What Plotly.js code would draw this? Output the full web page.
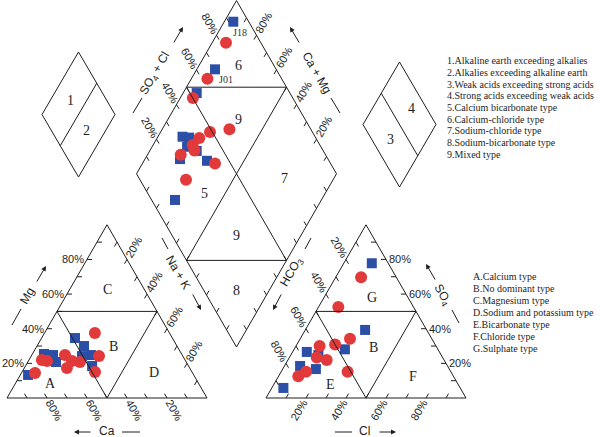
<!DOCTYPE html>
<html><head><meta charset="utf-8">
<script src="https://cdn.plot.ly/plotly-3.0.1.min.js"></script>
<style>html,body{margin:0;padding:0;background:#fff}#chart{width:600px;height:437px}</style>
</head><body><div id="chart"></div>
<script>
// ---------------- data (percent) ----------------
// Cation triangle: Ca %, Mg % (Na+K = 100 - Ca - Mg)
const catBlueCa = [82.8, 68.8, 64.6, 65.1, 48.7, 46.5, 50.4, 45.6, 48.2];
const catBlueMg = [13.3, 25.4, 24.8, 20.8, 34.6, 30.0, 24.2, 24.8, 18.5];
const catRedCa  = [78.8, 71.6, 69.3, 58.6, 61.4, 56.8, 53.1, 37.3, 41.9, 48.5];
const catRedMg  = [14.4, 21.9, 21.4, 24.8, 17.3, 21.4, 20.8, 37.5, 24.2, 15.0];
// Anion triangle: Cl %, SO4 % (HCO3 = 100 - Cl - SO4)
const anBlueCl  = [14.0, 29.9, 25.4, 7.1, 13.8, 7.8, 16.6, 5.8];
const anBlueSO4 = [77.8, 39.3, 28.1, 26.6, 24.8, 18.5, 16.7, 5.8];
const anRedCl   = [12.7, 9.9, 24.9, 19.1, 11.8, 13.7, 19.4, 12.4, 9.9, 33.2];
const anRedSO4  = [69.7, 52.5, 34.2, 30.9, 30.0, 23.4, 21.9, 15.2, 12.5, 15.2];
// Diamond: Na+K %, SO4+Cl %
const diaBlueNaK = [4.5, 9.1, 6.8, 12.3, 15.8, 17.5, 23.5, 17.5, 31.5, 26.8];
const diaBlueSCl = [92.3, 69.4, 53.4, 33.7, 36.7, 33.1, 36.7, 26.0, 39.0, 11.7];
const diaRedNaK  = [6.9, 8.0, 6.3, 33.6, 24.7, 21.1, 19.8, 22.3, 16.6, 36.3, 26.5];
const diaRedSCl  = [82.6, 62.9, 50.1, 59.3, 48.8, 41.7, 36.4, 35.7, 27.6, 42.2, 23.0];
const sampleLabels = ["J18", "J01"];          // first two blue diamond points
const tickPct = [20, 40, 60, 80];
const legendTypes = [
  "1.Alkaline earth exceeding alkalies",
  "2.Alkalies exceeding alkaline earth",
  "3.Weak acids exceeding strong acids",
  "4.Strong acids exceeding weak acids",
  "5.Calcium bicarbonate type",
  "6.Calcium-chloride type",
  "7.Sodium-chloride type",
  "8.Sodium-bicarbonate type",
  "9.Mixed type"];
const legendZones = [
  "A.Calcium type", "B.No dominant type", "C.Magnesium type",
  "D.Sodium and potassium type", "E.Bicarbonate type",
  "F.Chloride type", "G.Sulphate type"];

// ---------------- geometry ----------------
const S = 200, H = S * Math.sqrt(3) / 2;
const C0 = [7, 398], A0 = [266, 398], D0 = [236.5, 347];
const cat = (ca, mg) => { const nk = 100 - ca - mg; return [C0[0] + S * (nk + mg / 2) / 100, C0[1] - H * mg / 100]; };
const an  = (cl, so) => [A0[0] + S * (cl + so / 2) / 100, A0[1] - H * so / 100];
const dia = (nk, sc) => { const cm = 100 - nk; return [D0[0] + S / 2 * (sc - cm) / 100, D0[1] - H * (cm + sc) / 100]; };

const LC = '#1e1e1e';
const shapes = [];
const seg = (p, q, w) => shapes.push({type: 'line', xref: 'x', yref: 'y', x0: p[0], y0: p[1], x1: q[0], y1: q[1], line: {color: LC, width: w || 1}});
const poly = pts => { for (let i = 0; i < pts.length; i++) seg(pts[i], pts[(i + 1) % pts.length]); };

// frames
poly([cat(100, 0), cat(0, 0), cat(0, 100)]);
seg(cat(50, 50), cat(0, 50)); seg(cat(50, 50), cat(50, 0)); seg(cat(50, 0), cat(0, 50));
poly([an(0, 0), an(100, 0), an(0, 100)]);
seg(an(0, 50), an(50, 50)); seg(an(0, 50), an(50, 0)); seg(an(50, 0), an(50, 50));
poly([dia(100, 0), dia(0, 0), dia(0, 100), dia(100, 100)]);
seg(dia(50, 0), dia(100, 50)); seg(dia(0, 50), dia(50, 100));
seg(dia(50, 0), dia(50, 100)); seg(dia(100, 50), dia(0, 50));

// ticks
const r3 = Math.sqrt(3) / 2, TL = 5;
const tick = (p, d) => seg(p, [p[0] + TL * d[0], p[1] + TL * d[1]]);
for (let v = 10; v < 100; v += 10) {
  tick(cat(v, 0), [-0.5, -r3]);
  tick(cat(100 - v, v), [1, 0]);
  tick(cat(0, v), [-0.5, r3]);
  tick(an(v, 0), [0.5, -r3]);
  tick(an(100 - v, v), [-1, 0]);
  tick(an(0, v), [0.5, r3]);
  tick(dia(0, v), [0.5, r3]);
  tick(dia(v, 100), [-0.5, r3]);
  tick(dia(v, 0), [0.5, -r3]);
  tick(dia(100, v), [-0.5, -r3]);
}

// ---------------- annotations ----------------
const ann = [];
const SANS = 'Liberation Sans, Arial, sans-serif';
const SERIF = 'Liberation Serif, Times New Roman, serif';
const txt = (x, y, t, o) => ann.push(Object.assign({x: x, y: y, xref: 'x', yref: 'y', text: t, showarrow: false,
  font: {family: SANS, size: 11, color: '#1e1e1e'}, xanchor: 'center', yanchor: 'middle'}, o || {}));
const OFF = 14;
const lab = (p, d, t, ang) => txt(p[0] + OFF * d[0], p[1] + OFF * d[1], t, {textangle: ang});
tickPct.forEach(v => {
  const t = v + '%';
  lab(cat(v, 0), [0.5, r3], t, 60);
  lab(cat(100 - v, v), [-1, 0], t, 0);
  lab(cat(0, 100 - v), [0.5, -r3], t, -60);
  lab(an(v, 0), [-0.5, r3], t, -60);
  lab(an(100 - v, v), [1, 0], t, 0);
  lab(an(0, 100 - v), [-0.5, -r3], t, 60);
  lab(dia(0, v), [-0.5, -r3], t, 60);
  lab(dia(100 - v, 100), [0.5, -r3], t, -60);
});

// axis titles with dash + arrow
const arrow = (tail, head) => ann.push({x: head[0], y: head[1], ax: tail[0], ay: tail[1], xref: 'x', yref: 'y', axref: 'x', ayref: 'y',
  text: '', showarrow: true, arrowhead: 2, arrowsize: 1, arrowwidth: 1, arrowcolor: LC, standoff: 0, startstandoff: 0});
const TF = {family: SANS, size: 12, color: '#1e1e1e'};
// Mg
seg([12, 325], [21, 309]); txt(27, 296, 'Mg', {textangle: -60, font: TF}); arrow([36, 283], [46, 266]);
// Ca
arrow([92, 432], [74, 432]); txt(107, 431, 'Ca', {font: TF}); seg([122, 432], [140, 432]);
// Na + K
seg([162, 238], [168, 249]); txt(178, 272, 'Na + K', {textangle: 60, font: TF}); arrow([192, 293], [201, 310]);
// HCO3
seg([311, 238], [305, 249]); txt(292, 272, 'HCO<sub>3</sub>', {textangle: -60, font: TF}); arrow([282, 293], [273, 310]);
// SO4 (right)
arrow([436, 281], [426, 264]); txt(442, 295, 'SO<sub>4</sub>', {textangle: 60, font: TF}); seg([452, 310], [459, 323]);
// Cl
seg([335, 432], [352, 432]); txt(364, 431, 'Cl', {font: TF}); arrow([378, 432], [396, 432]);
// SO4 + Cl
seg([133, 113], [142, 98]); txt(155, 74, 'SO<sub>4</sub> + Cl', {textangle: -60, font: TF}); arrow([173, 44], [183, 27]);
// Ca + Mg
arrow([300, 44], [290, 27]); txt(317, 73, 'Ca + Mg', {textangle: 60, font: TF}); seg([331, 98], [340, 113]);

// region labels
const RF = {family: SERIF, size: 14, color: '#1e1e1e'};
[['C', 107, 289], ['B', 113, 346], ['A', 50, 383], ['D', 154, 372],
 ['G', 372, 297], ['B', 373, 347], ['E', 330, 384], ['F', 413, 376],
 ['6', 238, 65], ['9', 238, 119], ['5', 204, 193], ['7', 284, 178], ['9', 236, 235], ['8', 236, 290]]
  .forEach(r => txt(r[1], r[2], r[0], {font: RF}));

// explanatory small diamonds
const smallDiamond = (cx, cy, flip) => {
  const a = 36.5, b = 62.5;
  const top = [cx, cy - b], bot = [cx, cy + b], l = [cx - a, cy], r = [cx + a, cy];
  poly([top, r, bot, l]);
  if (!flip) seg([(top[0] + r[0]) / 2, (top[1] + r[1]) / 2], [(bot[0] + l[0]) / 2, (bot[1] + l[1]) / 2]);
  else seg([(top[0] + l[0]) / 2, (top[1] + l[1]) / 2], [(bot[0] + r[0]) / 2, (bot[1] + r[1]) / 2]);
};
smallDiamond(78.5, 114.5, false);
smallDiamond(399.5, 124.5, true);
const DF = {family: SERIF, size: 14, color: '#1e1e1e'};
txt(70, 100, '1', {font: DF}); txt(86, 130, '2', {font: DF});
txt(411, 108, '4', {font: DF}); txt(390, 139, '3', {font: DF});

// legends
const LF = {family: SERIF, size: 10, color: '#1e1e1e'};
legendTypes.forEach((t, i) => txt(445, 60.7 + i * 11.7, t, {xanchor: 'left', font: LF}));
legendZones.forEach((t, i) => txt(471, 276 + i * 12, t, {xanchor: 'left', font: LF}));

// ---------------- traces ----------------
const BLUE = '#2b4ea6', RED = '#e23a3a';
const pts = (fn, a, b) => { const xs = [], ys = []; a.forEach((v, i) => { const p = fn(v, b[i]); xs.push(p[0]); ys.push(p[1]); }); return [xs, ys]; };
const traces = [];
const addSet = (fn, a, b, color, sym, size) => {
  const [xs, ys] = pts(fn, a, b);
  traces.push({x: xs, y: ys, type: 'scatter', mode: 'markers', hoverinfo: 'skip',
    marker: {color: color, symbol: sym, size: size, line: {width: 0}}});
  return [xs, ys];
};
addSet(cat, catBlueCa, catBlueMg, BLUE, 'square', 10);
addSet(an, anBlueCl, anBlueSO4, BLUE, 'square', 10);
const db = addSet(dia, diaBlueNaK, diaBlueSCl, BLUE, 'square', 10);
addSet(cat, catRedCa, catRedMg, RED, 'circle', 12);
addSet(an, anRedCl, anRedSO4, RED, 'circle', 12);
addSet(dia, diaRedNaK, diaRedSCl, RED, 'circle', 12);

// sample labels
const SLF = {family: SERIF, size: 10, color: '#333'};
const labOff = [[7, 11], [11, 10]];
sampleLabels.forEach((t, i) => txt(db[0][i] + labOff[i][0], db[1][i] + labOff[i][1], t, {font: SLF}));

const layout = {
  width: 600, height: 437, margin: {l: 0, r: 0, t: 0, b: 0},
  paper_bgcolor: '#fff', plot_bgcolor: '#fff', showlegend: false,
  xaxis: {range: [0, 600], visible: false, fixedrange: true},
  yaxis: {range: [437, 0], visible: false, fixedrange: true},
  shapes: shapes, annotations: ann
};
Plotly.newPlot('chart', traces, layout, {staticPlot: true, displayModeBar: false});
</script></body></html>
